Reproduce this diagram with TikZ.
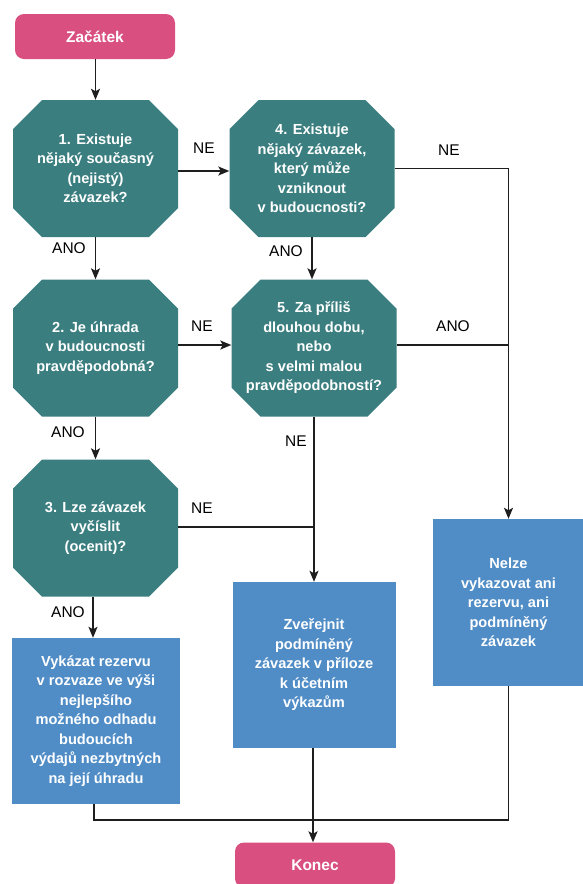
\documentclass[tikz,border=0pt]{standalone}
\usepackage{fontspec}
\setmainfont{Liberation Sans}
\usetikzlibrary{arrows.meta}
\definecolor{pinkc}{RGB}{216,79,128}
\definecolor{tealc}{RGB}{59,126,128}
\definecolor{bluec}{RGB}{80,141,198}
\definecolor{linec}{RGB}{30,30,30}
\tikzset{
  term/.style={rounded corners=9pt, fill=pinkc, text=white, minimum width=160pt, minimum height=45pt, inner sep=0pt, font=\fontsize{15.5}{18}\selectfont\bfseries},
  octa/.style={minimum width=165pt, minimum height=137pt, inner sep=0pt, text=white, align=center,
    font=\fontsize{14.6}{19.5}\selectfont\bfseries,
    path picture={\fill[tealc]
      ([xshift=29pt]path picture bounding box.north west) --
      ([xshift=-29pt]path picture bounding box.north east) --
      ([yshift=-29pt]path picture bounding box.north east) --
      ([yshift=29pt]path picture bounding box.south east) --
      ([xshift=-29pt]path picture bounding box.south east) --
      ([xshift=29pt]path picture bounding box.south west) --
      ([yshift=29pt]path picture bounding box.south west) --
      ([yshift=-29pt]path picture bounding box.north west) -- cycle;}},
  outbox/.style={fill=bluec, text=white, align=center, inner sep=0pt,
    font=\fontsize{14.6}{19.5}\selectfont\bfseries},
  lbl/.style={font=\fontsize{15.5}{18}\selectfont, text=black, inner sep=0pt},
  conn/.style={draw=linec, line width=1.4pt},
  arr/.style={conn, -{Stealth[length=11pt,width=9pt,inset=2.5pt]}},
}
\begin{document}
\begin{tikzpicture}[x=1pt,y=-1pt]
\useasboundingbox (0,0) rectangle (582,884);
\fill[white] (0,0) rectangle (582,884);
\node[term] (st) at (95,36.5) {Začátek};
\node[octa] (o1) at (95.5,168.5) {1. Existuje\\nějaký současný\\(nejistý)\\závazek?};
\node[octa] (o4) at (312,168.5) {4. Existuje\\nějaký závazek,\\který může\\vzniknout\\v budoucnosti?};
\node[octa] (o2) at (95.5,348) {2. Je úhrada\\v budoucnosti\\pravděpodobná?};
\node[octa] (o5) at (314,348) {5. Za příliš\\dlouhou dobu,\\nebo\\s velmi malou\\pravděpodobností?};
\node[octa] (o3) at (95.5,528) {3. Lze závazek\\vyčíslit\\(ocenit)?};
\node[outbox, minimum width=168pt, minimum height=166pt] (vy) at (96,721) {Vykázat rezervu\\v rozvaze ve výši\\nejlepšího\\možného odhadu\\budoucích\\výdajů nezbytných\\na její úhradu};
\node[outbox, minimum width=163pt, minimum height=166pt] (zv) at (314,665) {Zveřejnit\\podmíněný\\závazek v příloze\\k účetním\\výkazům};
\node[outbox, minimum width=151pt, minimum height=167pt] (nz) at (508.5,602.5) {Nelze\\vykazovat ani\\rezervu, ani\\podmíněný\\závazek};
\node[term] (ko) at (315,865) {Konec};

% connectors
\draw[arr] (st.south -| o1.north) -- (o1.north);
\draw[arr] (o1.east |- 0,171) -- (o4.west |- 0,171);
\draw[arr] (o1.south) -- (o2.north);
\draw[arr] (o4.south) -- (o5.north -| o4.south);
\draw[arr] (o2.east |- 0,345) -- (o5.west |- 0,345);
\draw[arr] (o2.south) -- (o3.north);
\draw[arr] (o3.south -| 93,0) -- (vy.north -| 93,0);
\coordinate (jr) at (nz.north |- o4.east);
\draw[arr] (o4.east) -- (jr) -- (nz.north);
\draw[conn] (o5.east |- 0,345) -- (jr |- 0,345);
\draw[arr] (o5.south) -- (o5.south |- zv.north);
\draw[conn] (o3.east |- 0,527) -- (o5.south |- 0,527);
\coordinate (bm) at (313,820);
\draw[conn] (vy.south -| 94,0) |- (bm) -| (nz.south);
\draw[arr] (zv.south -| 313,0) -- (ko.north -| 313,0);

% labels
\node[lbl] (l1) at (204,148) {NE};
\node[lbl] (l2) at (449,150) {NE};
\node[lbl] (l3) at (69,248) {ANO};
\node[lbl] (l4) at (286,251) {ANO};
\node[lbl] (l5) at (202,326) {NE};
\node[lbl] (l6) at (453,326) {ANO};
\node[lbl] (l7) at (68,432) {ANO};
\node[lbl] (l8) at (296,441) {NE};
\node[lbl] (l9) at (202,508) {NE};
\node[lbl] (l10) at (68,612) {ANO};
\end{tikzpicture}
\end{document}
